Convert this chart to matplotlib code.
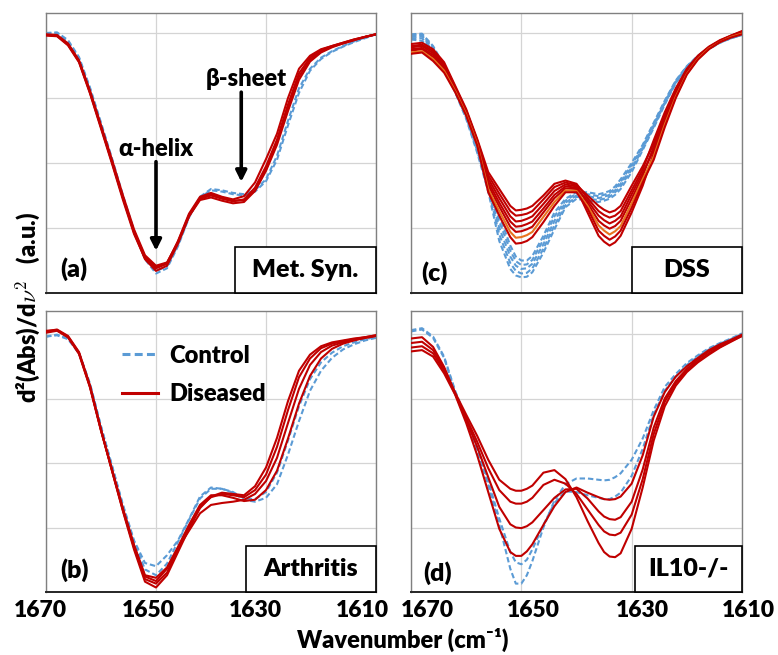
import numpy as np
import matplotlib.pyplot as plt
from matplotlib.lines import Line2D
from matplotlib.patches import Rectangle
from matplotlib.transforms import ScaledTranslation

plt.rcParams['font.family'] = ['Lato', 'DejaVu Sans']
plt.rcParams['font.weight'] = 'heavy'
plt.rcParams['mathtext.fontset'] = 'cm'

# second-derivative spectra, amide I region (a.u., one gridline = 1)
wavenumber = [1670, 1668, 1666, 1664, 1662, 1660, 1658, 1656, 1654, 1652, 1650,
              1648, 1646, 1644, 1642, 1640, 1638, 1636, 1634, 1632, 1630,
              1628, 1626, 1624, 1622, 1620, 1618, 1616, 1614, 1612, 1610]
# (c) and (d) were read a little closer around the two minima
wavenumber_fine = [1670, 1668, 1666, 1664, 1662, 1660, 1658, 1656, 1654, 1652, 1651, 1650,
                   1649, 1648, 1646, 1644, 1642, 1640, 1638, 1636, 1635, 1634, 1633, 1632,
                   1630, 1628, 1626, 1624, 1622, 1620, 1618, 1616, 1614, 1612, 1610]
tick_values = [1670, 1650, 1630, 1610]

# (a) metabolic syndrome - one list per spectrum
metsyn_control = [
    [4.00, 4.01, 3.89, 3.63, 3.16, 2.62, 2.07, 1.50, 0.96, 0.52, 0.30, 0.38, 0.72, 1.16, 1.48, 1.60,
     1.58, 1.54, 1.52, 1.58, 1.75, 2.11, 2.65, 3.15, 3.45, 3.62, 3.72, 3.80, 3.87, 3.93, 3.98],
    [3.99, 4.00, 3.87, 3.61, 3.14, 2.60, 2.05, 1.48, 0.95, 0.54, 0.34, 0.41, 0.74, 1.17, 1.47, 1.58,
     1.56, 1.52, 1.50, 1.56, 1.72, 2.05, 2.58, 3.08, 3.42, 3.60, 3.71, 3.79, 3.86, 3.92, 3.98],
]
metsyn_diseased = [
    [3.96, 3.95, 3.81, 3.55, 3.07, 2.53, 1.99, 1.43, 0.91, 0.53, 0.38, 0.45, 0.80, 1.22, 1.48, 1.54,
     1.48, 1.44, 1.49, 1.70, 2.06, 2.45, 3.00, 3.45, 3.65, 3.75, 3.80, 3.85, 3.90, 3.94, 3.98],
    [3.97, 3.96, 3.83, 3.57, 3.10, 2.56, 2.02, 1.46, 0.93, 0.52, 0.34, 0.42, 0.76, 1.18, 1.45, 1.50,
     1.45, 1.41, 1.44, 1.62, 1.95, 2.36, 2.90, 3.38, 3.62, 3.74, 3.80, 3.85, 3.90, 3.94, 3.98],
    [3.98, 3.97, 3.84, 3.58, 3.11, 2.58, 2.05, 1.50, 0.98, 0.58, 0.42, 0.47, 0.78, 1.18, 1.43, 1.47,
     1.42, 1.38, 1.40, 1.57, 1.88, 2.28, 2.80, 3.28, 3.56, 3.70, 3.78, 3.84, 3.89, 3.94, 3.98],
    [3.97, 3.96, 3.82, 3.56, 3.08, 2.55, 2.01, 1.46, 0.95, 0.56, 0.40, 0.46, 0.79, 1.20, 1.46, 1.52,
     1.47, 1.42, 1.43, 1.58, 1.90, 2.32, 2.85, 3.33, 3.59, 3.72, 3.79, 3.84, 3.89, 3.94, 3.98],
]

# (b) arthritis
arthritis_control = [
    [3.96, 3.98, 3.92, 3.70, 3.22, 2.56, 1.95, 1.33, 0.78, 0.35, 0.26, 0.44, 0.78, 1.12, 1.45, 1.60,
     1.60, 1.54, 1.43, 1.40, 1.46, 1.67, 2.13, 2.65, 3.12, 3.43, 3.63, 3.76, 3.84, 3.90, 3.94],
    [3.96, 3.99, 3.93, 3.71, 3.23, 2.57, 1.96, 1.35, 0.80, 0.45, 0.40, 0.57, 0.80, 1.13, 1.48, 1.62,
     1.60, 1.55, 1.45, 1.44, 1.55, 1.85, 2.35, 2.88, 3.30, 3.56, 3.71, 3.81, 3.87, 3.92, 3.95],
]
arthritis_diseased = [
    [4.04, 4.07, 3.97, 3.72, 3.20, 2.52, 1.88, 1.25, 0.66, 0.16, 0.07, 0.26, 0.62, 0.98, 1.30, 1.48,
     1.54, 1.52, 1.50, 1.64, 1.93, 2.39, 2.96, 3.43, 3.68, 3.81, 3.87, 3.90, 3.93, 3.95, 3.98],
    [4.03, 4.06, 3.96, 3.71, 3.19, 2.51, 1.88, 1.26, 0.69, 0.20, 0.13, 0.30, 0.65, 1.00, 1.32, 1.47,
     1.52, 1.50, 1.47, 1.58, 1.82, 2.25, 2.82, 3.33, 3.62, 3.78, 3.85, 3.89, 3.92, 3.95, 3.98],
    [4.05, 4.06, 3.95, 3.69, 3.17, 2.50, 1.89, 1.28, 0.72, 0.24, 0.17, 0.36, 0.68, 0.95, 1.22, 1.35,
     1.38, 1.40, 1.43, 1.52, 1.72, 2.08, 2.62, 3.15, 3.52, 3.72, 3.82, 3.87, 3.91, 3.94, 3.97],
    [4.02, 4.05, 3.95, 3.70, 3.18, 2.51, 1.90, 1.29, 0.73, 0.26, 0.22, 0.38, 0.70, 1.04, 1.35, 1.50,
     1.50, 1.46, 1.41, 1.43, 1.58, 1.88, 2.38, 2.92, 3.35, 3.62, 3.77, 3.85, 3.90, 3.94, 3.97],
]

# (c) DSS - one row per wavenumber (wavenumber_fine), one column per spectrum
dss_control = [
    [3.98, 3.96, 3.94, 3.92, 3.90], [3.99, 3.97, 3.95, 3.92, 3.88], [3.80, 3.78, 3.76, 3.73, 3.70],
    [3.50, 3.49, 3.48, 3.46, 3.45], [3.14, 3.13, 3.12, 3.10, 3.09], [2.78, 2.75, 2.73, 2.70, 2.68],
    [2.27, 2.24, 2.21, 2.19, 2.16], [1.72, 1.68, 1.64, 1.60, 1.56], [1.19, 1.10, 1.00, 0.90, 0.80],
    [0.73, 0.65, 0.56, 0.46, 0.37], [0.56, 0.49, 0.42, 0.34, 0.27], [0.50, 0.43, 0.37, 0.30, 0.24],
    [0.50, 0.44, 0.38, 0.31, 0.25], [0.57, 0.51, 0.45, 0.38, 0.32], [0.88, 0.82, 0.75, 0.68, 0.62],
    [1.24, 1.18, 1.11, 1.04, 0.98], [1.45, 1.42, 1.39, 1.35, 1.32], [1.55, 1.53, 1.50, 1.48, 1.45],
    [1.55, 1.52, 1.49, 1.45, 1.42], [1.52, 1.49, 1.46, 1.43, 1.40], [1.54, 1.51, 1.48, 1.45, 1.42],
    [1.57, 1.54, 1.51, 1.48, 1.45], [1.64, 1.61, 1.58, 1.55, 1.51], [1.75, 1.71, 1.68, 1.64, 1.60],
    [2.00, 1.97, 1.93, 1.90, 1.86], [2.28, 2.26, 2.24, 2.22, 2.20], [2.62, 2.60, 2.58, 2.56, 2.54],
    [2.96, 2.94, 2.93, 2.92, 2.90], [3.27, 3.26, 3.25, 3.24, 3.23], [3.49, 3.48, 3.48, 3.47, 3.46],
    [3.65, 3.64, 3.64, 3.63, 3.63], [3.77, 3.77, 3.76, 3.76, 3.75], [3.86, 3.86, 3.86, 3.85, 3.85],
    [3.93, 3.93, 3.92, 3.92, 3.92], [3.98, 3.98, 3.97, 3.97, 3.97],
]
dss_diseased = [
    [3.83, 3.80, 3.78, 3.75, 3.73, 3.70, 3.68], [3.85, 3.82, 3.80, 3.77, 3.75, 3.72, 3.70],
    [3.75, 3.72, 3.69, 3.66, 3.63, 3.60, 3.57], [3.55, 3.52, 3.50, 3.47, 3.44, 3.42, 3.39],
    [3.19, 3.17, 3.16, 3.14, 3.12, 3.11, 3.09], [2.83, 2.81, 2.80, 2.78, 2.76, 2.75, 2.73],
    [2.37, 2.35, 2.34, 2.32, 2.30, 2.29, 2.27], [1.86, 1.81, 1.76, 1.71, 1.66, 1.60, 1.55],
    [1.60, 1.53, 1.46, 1.39, 1.33, 1.26, 1.19], [1.34, 1.26, 1.18, 1.10, 1.02, 0.94, 0.86],
    [1.27, 1.19, 1.10, 1.02, 0.94, 0.85, 0.76], [1.28, 1.20, 1.11, 1.03, 0.95, 0.86, 0.77],
    [1.30, 1.22, 1.14, 1.06, 0.98, 0.89, 0.80], [1.34, 1.26, 1.18, 1.10, 1.02, 0.94, 0.86],
    [1.50, 1.44, 1.37, 1.30, 1.24, 1.17, 1.09], [1.68, 1.63, 1.57, 1.51, 1.46, 1.40, 1.34],
    [1.73, 1.70, 1.67, 1.64, 1.61, 1.58, 1.55], [1.68, 1.66, 1.64, 1.62, 1.60, 1.57, 1.55],
    [1.46, 1.50, 1.38, 1.42, 1.24, 1.34, 1.30], [1.26, 1.34, 1.11, 1.19, 0.88, 1.04, 0.96],
    [1.20, 1.28, 1.04, 1.12, 0.79, 0.96, 0.88], [1.16, 1.24, 0.99, 1.07, 0.73, 0.90, 0.82],
    [1.19, 1.27, 1.03, 1.11, 0.78, 0.95, 0.87], [1.26, 1.34, 1.11, 1.18, 0.88, 1.03, 0.96],
    [1.58, 1.65, 1.45, 1.52, 1.24, 1.38, 1.31], [1.90, 1.95, 1.80, 1.85, 1.65, 1.75, 1.70],
    [2.35, 2.30, 2.25, 2.20, 2.15, 2.10, 2.05], [2.78, 2.74, 2.70, 2.66, 2.63, 2.59, 2.55],
    [3.15, 3.12, 3.10, 3.07, 3.05, 3.02, 3.00], [3.45, 3.43, 3.42, 3.40, 3.39, 3.37, 3.36],
    [3.65, 3.64, 3.63, 3.62, 3.61, 3.60, 3.59], [3.79, 3.78, 3.78, 3.77, 3.76, 3.76, 3.75],
    [3.89, 3.88, 3.88, 3.87, 3.87, 3.86, 3.86], [3.96, 3.96, 3.95, 3.95, 3.94, 3.94, 3.93],
    [4.03, 4.02, 4.02, 4.01, 4.00, 3.99, 3.98],
]

# (d) IL10-/- (wavenumber_fine)
il10_control = [
    [4.06, 4.09, 3.96, 3.65, 3.12, 2.68, 2.20, 1.66, 1.04, 0.36, 0.13, 0.13, 0.26, 0.48, 1.00, 1.42,
     1.67, 1.76, 1.76, 1.74, 1.73, 1.74, 1.78, 1.84, 2.05, 2.38, 2.82, 3.18, 3.38, 3.55, 3.67, 3.78,
     3.86, 3.93, 4.01],
    [4.04, 4.07, 3.94, 3.63, 3.10, 2.70, 2.24, 1.72, 1.14, 0.62, 0.46, 0.43, 0.50, 0.66, 1.04, 1.38,
     1.56, 1.55, 1.50, 1.46, 1.44, 1.44, 1.48, 1.54, 1.80, 2.22, 2.75, 3.12, 3.34, 3.52, 3.65, 3.76,
     3.85, 3.92, 4.00],
]
il10_diseased = [
    [3.93, 3.95, 3.80, 3.49, 3.09, 2.75, 2.42, 2.05, 1.74, 1.60, 1.57, 1.57, 1.60, 1.65, 1.85, 1.89,
     1.75, 1.47, 1.10, 0.76, 0.62, 0.55, 0.54, 0.60, 0.98, 1.62, 2.35, 2.88, 3.20, 3.41, 3.56, 3.68,
     3.79, 3.88, 3.97],
    [3.86, 3.88, 3.75, 3.46, 3.08, 2.70, 2.33, 1.92, 1.58, 1.40, 1.37, 1.37, 1.40, 1.46, 1.66, 1.74,
     1.68, 1.52, 1.28, 1.04, 0.94, 0.89, 0.88, 0.92, 1.20, 1.75, 2.45, 2.95, 3.24, 3.43, 3.58, 3.70,
     3.80, 3.89, 3.97],
    [3.79, 3.81, 3.70, 3.43, 3.07, 2.67, 2.25, 1.78, 1.32, 1.05, 1.00, 0.99, 1.02, 1.08, 1.27, 1.46,
     1.59, 1.60, 1.45, 1.25, 1.17, 1.13, 1.12, 1.16, 1.40, 1.90, 2.55, 3.00, 3.27, 3.46, 3.61, 3.73,
     3.82, 3.90, 3.98],
    [3.73, 3.75, 3.65, 3.39, 3.06, 2.62, 2.12, 1.55, 0.98, 0.62, 0.56, 0.56, 0.63, 0.74, 1.04, 1.33,
     1.55, 1.62, 1.54, 1.47, 1.44, 1.43, 1.44, 1.48, 1.68, 2.12, 2.72, 3.10, 3.34, 3.50, 3.63, 3.75,
     3.84, 3.91, 3.99],
]

RED = '#C00000'
ORANGE = '#E8731E'
BLUE = '#5B9BD5'

fig = plt.figure(figsize=(7.78, 6.55), dpi=100, facecolor='white')
W, H = 778, 655


def px_axes(x0, y0, x1, y1):
    return fig.add_axes([x0 / W, 1 - y1 / H, (x1 - x0) / W, (y1 - y0) / H])


ax_a = px_axes(46, 13, 376, 293)
ax_c = px_axes(411, 13, 742, 293)
ax_b = px_axes(46, 311, 376, 592)
ax_d = px_axes(411, 311, 742, 592)


def draw_panel(ax, x, control, diseased, tag, name, box_x0, tag_xy, ytop,
               show_x=False, label_shift=None, diseased_colors=None):
    for y in control:
        ax.plot(x, y, color=BLUE, lw=1.5, dashes=(2.6, 1.4),
                solid_joinstyle='round', zorder=2)
    for i, y in enumerate(diseased):
        c = diseased_colors[i] if diseased_colors else RED
        ax.plot(x, y, color=c, lw=1.5, solid_joinstyle='round', zorder=3)

    ax.set_xlim(1670, 1610)
    ax.set_ylim(0, ytop)
    ax.set_xticks(tick_values)
    ax.set_yticks([1, 2, 3, 4])
    ax.set_yticklabels([])
    ax.grid(True, color='#d4d4d4', lw=0.9, zorder=0)
    ax.set_axisbelow(True)
    ax.tick_params(length=0, pad=6, labelsize=16.5)
    if show_x:
        ax.set_xticklabels([str(v) for v in tick_values], fontweight='heavy')
        for lab, dx in zip(ax.get_xticklabels(), label_shift):
            lab.set_transform(lab.get_transform() + ScaledTranslation(dx / 100, 0, fig.dpi_scale_trans))
    else:
        ax.set_xticklabels([])

    for side in ['left', 'top', 'right']:
        ax.spines[side].set_color('#808080')
        ax.spines[side].set_linewidth(1.0)
    ax.spines['bottom'].set_color('#262626')
    ax.spines['bottom'].set_linewidth(1.4)

    ax.add_patch(Rectangle((box_x0, 0), 1 - box_x0, 0.164, transform=ax.transAxes,
                           facecolor='white', edgecolor='black', lw=1.2, zorder=5,
                           clip_on=False))
    ax.text((box_x0 + 1) / 2, 0.082, name, transform=ax.transAxes, ha='center',
            va='center', fontsize=18, fontweight='heavy', zorder=6)
    ax.text(tag_xy[0], tag_xy[1], tag, transform=ax.transAxes, ha='center',
            va='center', fontsize=18, fontweight='heavy', zorder=6)


draw_panel(ax_a, wavenumber, metsyn_control, metsyn_diseased, '(a)', 'Met. Syn.', 0.573,
           (0.083, 0.085), 280 / 65)
draw_panel(ax_c, wavenumber_fine, np.array(dss_control).T, np.array(dss_diseased).T,
           '(c)', 'DSS', 0.668, (0.07, 0.072), 280 / 65,
           diseased_colors=[RED, RED, RED, RED, RED, ORANGE, RED])
draw_panel(ax_b, wavenumber, arthritis_control, arthritis_diseased, '(b)', 'Arthritis', 0.606,
           (0.085, 0.078), 281 / 64.5, show_x=True, label_shift=[-6, -8, -11, -14])
draw_panel(ax_d, wavenumber_fine, il10_control, il10_diseased, '(d)', 'IL10-/-', 0.677,
           (0.08, 0.068), 281 / 64.5, show_x=True, label_shift=[16, 12, 11, 6])

# annotations in (a)
arrow = dict(arrowstyle='-|>', color='black', lw=2.6, mutation_scale=16,
             shrinkA=0, shrinkB=0)
ax_a.annotate('', xy=(1650, 0.65), xytext=(1650, 2.02), arrowprops=arrow, zorder=7)
ax_a.text(1650, 2.22, 'α-helix', ha='center', va='center', fontsize=17, fontweight='heavy')
ax_a.annotate('', xy=(1634.5, 1.71), xytext=(1634.5, 3.09), arrowprops=arrow, zorder=7)
ax_a.text(1633.6, 3.29, 'β-sheet', ha='center', va='center', fontsize=17, fontweight='heavy')

# legend in (b)
handles = [Line2D([], [], color=BLUE, lw=2.2, dashes=(2.6, 1.4)),
           Line2D([], [], color=RED, lw=2.2)]
ax_b.legend(handles, ['Control', 'Diseased'], loc='upper left', bbox_to_anchor=(0.23, 0.88),
            frameon=False, borderpad=0, borderaxespad=0, handlelength=1.55,
            handletextpad=0.45, labelspacing=0.7, prop={'size': 17, 'weight': 'heavy'})

fig.text(0.517, 0.023, 'Wavenumber (cm⁻¹)', ha='center', va='center',
         fontsize=17, fontweight='heavy')
fig.text(0.036, 0.531, 'd²(Abs)/d$\\nu^2$   (a.u.)', rotation=90, ha='center',
         va='center', fontsize=17, fontweight='heavy')

fig.savefig('out.png', dpi=100, facecolor='white')
